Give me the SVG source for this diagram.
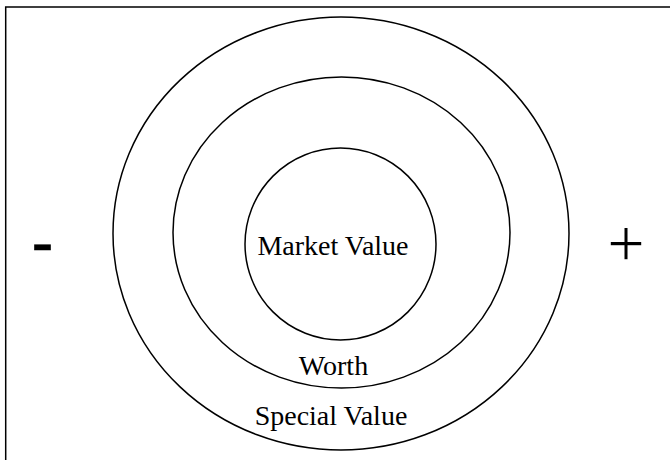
<svg xmlns="http://www.w3.org/2000/svg" width="670" height="460" viewBox="0 0 670 460">
<style>
.ring{fill:none;stroke:#000;stroke-width:1.5}
.lbl{font-family:"Liberation Serif","Times New Roman",serif;font-size:28px;fill:#000;text-anchor:middle}
.sign{font-family:"Liberation Sans",Arial,sans-serif;font-size:66px;fill:#000;text-anchor:middle}
</style>
<rect x="0" y="0" width="670" height="460" fill="#fff"/>
<path d="M5.7 462 V7 H672" fill="none" stroke="#000" stroke-width="1.5"/>
<g id="special-value">
<ellipse class="ring" cx="341" cy="233.5" rx="228" ry="216.5"/>
<text class="lbl" x="331" y="425">Special Value</text>
</g>
<g id="worth">
<ellipse class="ring" cx="341.5" cy="232.5" rx="168.5" ry="155.5"/>
<text class="lbl" x="333.5" y="375">Worth</text>
</g>
<g id="market-value">
<ellipse class="ring" cx="340.5" cy="244" rx="95.5" ry="96"/>
<text class="lbl" x="333" y="255">Market Value</text>
</g>
<g id="minus"><text class="sign" x="42.5" y="265" stroke="#000" stroke-width="0.6">-</text></g>
<g id="plus"><text class="sign" x="626" y="266" font-size="69" stroke="#fff" stroke-width="1.6">+</text></g>
<g id="connectors"></g>
</svg>
